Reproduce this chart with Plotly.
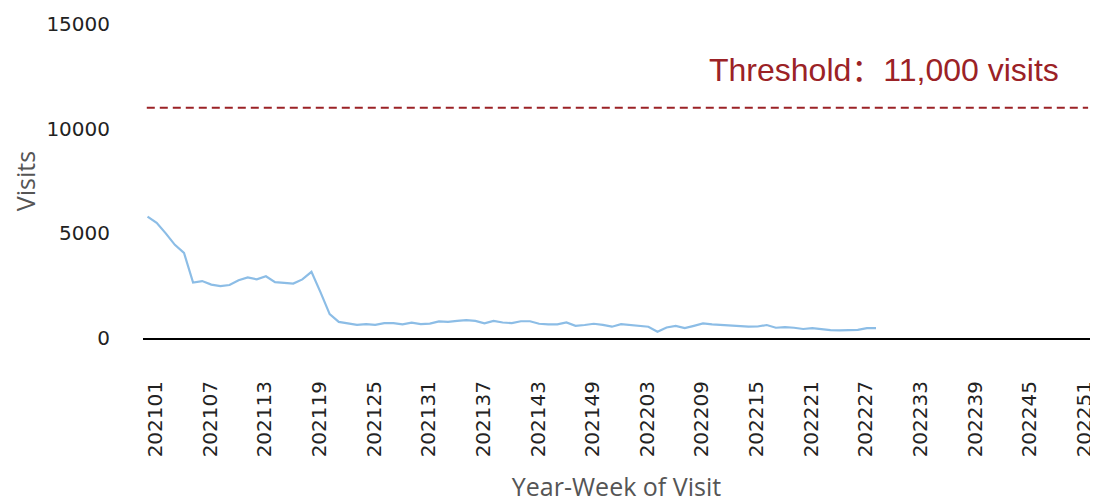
import plotly.graph_objects as go

# Categories: year-week codes
weeks_2021 = [f"2021{w:02d}" for w in range(1, 53)]
weeks_2022 = [f"2022{w:02d}" for w in range(1, 53)]
categories = weeks_2021 + weeks_2022

visits = [
    5800, 5500, 5000, 4450, 4070, 2650, 2720, 2550, 2480, 2530,
    2760, 2890, 2800, 2950, 2670, 2650, 2600, 2800, 3160, 2180,
    1140, 770, 710, 630, 660, 630, 710, 710, 650, 730,
    660, 690, 790, 770, 820, 850, 820, 700, 820, 740,
    710, 800, 800, 680, 650, 650, 740, 580, 620, 680,
    630, 540, 660, 630, 590, 540, 300, 500, 580, 470,
    580, 700, 650, 620, 580, 540, 545, 550, 620, 490,
    520, 490, 430, 470, 410, 380, 360, 370, 390, 470,
    470,
]

tick_step = 6
tick_labels = categories[::tick_step]
threshold = 11000
threshold_text = "Threshold：11,000 visits"

# tick labels sit slightly right of their category centre in the original
label_shift = 0.88
tick_positions = [i + label_shift for i in range(0, len(categories), tick_step)]

fig = go.Figure()
fig.add_trace(go.Scatter(
    x=categories[:len(visits)], y=visits, mode="lines",
    line=dict(color="#8cbde6", width=2.2), hoverinfo="skip", showlegend=False,
))

fig.add_shape(type="line", xref="paper", yref="y", x0=0.004, x1=0.998,
              y0=threshold, y1=threshold,
              line=dict(color="#9b2226", width=2, dash="8px,5px"))

fig.add_annotation(xref="paper", yref="y", x=0.969, y=12800,
                   text=threshold_text, showarrow=False,
                   xanchor="right", yanchor="middle",
                   font=dict(family="Liberation Sans, Arial, Noto Sans CJK SC", size=32, color="#9b2226"))

fig.update_layout(
    width=1090, height=495,
    margin=dict(l=135, r=8, t=16, b=165, autoexpand=False),
    paper_bgcolor="white", plot_bgcolor="white",
    font=dict(family="DejaVu Sans", size=20, color="#222222"),
)

fig.update_xaxes(
    type="category", categoryorder="array", categoryarray=categories,
    range=[-0.5, len(categories) - 0.5], automargin=False,
    tickmode="array", tickvals=tick_positions, ticktext=tick_labels,
    tickangle=-90, ticklabelstandoff=33,
    showgrid=False, zeroline=False,
    showline=True, linecolor="black", linewidth=2,
    tickfont=dict(family="DejaVu Sans", size=20, color="#222222"),
    title=dict(text="Year-Week of Visit", standoff=32,
               font=dict(family="Open Sans", size=25, color="#555555")),
)

fig.update_yaxes(
    range=[0, 15000], tickvals=[0, 5000, 10000, 15000],
    ticktext=["0", "5000", "10000", "15000"], automargin=False,
    showgrid=False, zeroline=False, showline=False,
    ticklabelstandoff=32,
    tickfont=dict(family="DejaVu Sans", size=20, color="#222222"),
    title=dict(text="Visits", standoff=24,
               font=dict(family="Open Sans", size=25, color="#555555")),
)

fig.write_html("out.html")
